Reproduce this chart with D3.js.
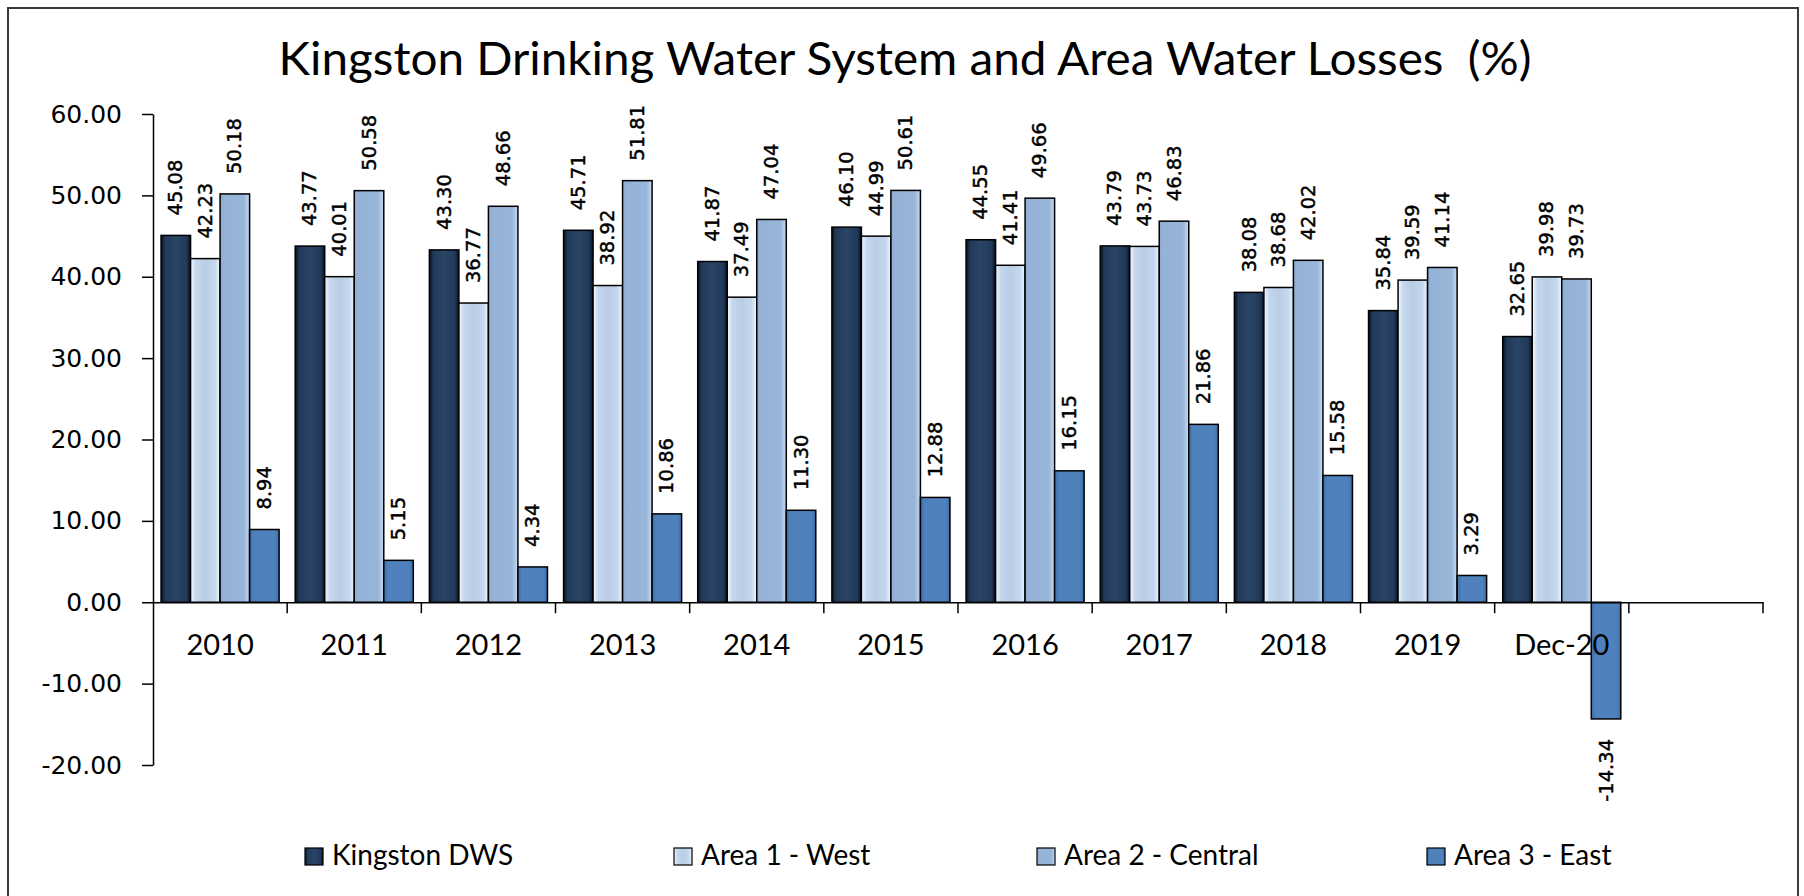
<!DOCTYPE html>
<html>
<head>
<meta charset="utf-8">
<script src="https://cdn.jsdelivr.net/npm/d3@7"></script>
<style>
  html, body { margin: 0; padding: 0; background: #fff; }
  svg { display: block; }
</style>
</head>
<body>
<svg id="chart" width="1804" height="896"></svg>
<script>
// Water loss percentages by year and service area
const categories = ["2010", "2011", "2012", "2013", "2014", "2015", "2016", "2017", "2018", "2019", "Dec-20"];
const kingstonDWS = [45.08, 43.77, 43.30, 45.71, 41.87, 46.10, 44.55, 43.79, 38.08, 35.84, 32.65];
const area1West = [42.23, 40.01, 36.77, 38.92, 37.49, 44.99, 41.41, 43.73, 38.68, 39.59, 39.98];
const area2Central = [50.18, 50.58, 48.66, 51.81, 47.04, 50.61, 49.66, 46.83, 42.02, 41.14, 39.73];
const area3East = [8.94, 5.15, 4.34, 10.86, 11.30, 12.88, 16.15, 21.86, 15.58, 3.29, -14.34];
const seriesNames = ["Kingston DWS", "Area 1 - West", "Area 2 - Central", "Area 3 - East"];
const yTickValues = [-20, -10, 0, 10, 20, 30, 40, 50, 60];
const titleText = "Kingston Drinking Water System and Area Water Losses  (%)";

const seriesValues = [kingstonDWS, area1West, area2Central, area3East];
// one empty slot after the last period keeps the category axis open on the right
const slots = categories.concat([" "]);

// number format with a plain hyphen for negatives
const fmt = d3.formatLocale({ decimal: ".", thousands: ",", grouping: [3], currency: ["", ""], minus: "-" }).format(".2f");

const svg = d3.select("#chart");
const plot = { left: 153, right: 1763, top: 114, bottom: 765 };

// shaded fills for each series (edge glow on the bars)
const shades = [
  [["0", "#07111f"], ["0.14", "#213a5a"], ["0.5", "#2a4466"], ["0.86", "#213a5a"], ["1", "#07111f"]],
  [["0", "#f3f9ff"], ["0.18", "#c4d7ee"], ["0.5", "#b9cde5"], ["0.82", "#c4d7ee"], ["1", "#eef6ff"]],
  [["0", "#8fadd2"], ["0.15", "#95b3d7"], ["0.8", "#97b5d9"], ["1", "#c6dbf2"]],
  [["0", "#3f6ea8"], ["0.15", "#4f81bd"], ["0.85", "#4f81bd"], ["1", "#3f6ea8"]]
];
const defs = svg.append("defs");
shades.forEach((stops, i) => {
  const g = defs.append("linearGradient").attr("id", "fill" + i)
    .attr("x1", "0").attr("x2", "1").attr("y1", "0").attr("y2", "0");
  stops.forEach(s => g.append("stop").attr("offset", s[0]).attr("stop-color", s[1]));
});

// chart frame
svg.append("rect").attr("x", 8).attr("y", 8).attr("width", 1790).attr("height", 900)
  .attr("fill", "#fff").attr("stroke", "#3a3a3a").attr("stroke-width", 2);

// title
svg.append("text").attr("x", 905).attr("y", 75)
  .attr("text-anchor", "middle")
  .attr("font-family", "Lato, 'Open Sans', sans-serif")
  .attr("font-size", 46)
  .attr("fill", "#000")
  .attr("textLength", 1253).attr("lengthAdjust", "spacingAndGlyphs")
  .style("white-space", "pre")
  .text(titleText);

// scales
const x0 = d3.scaleBand().domain(slots).range([plot.left, plot.right]).padding(0);
const x1 = d3.scaleBand().domain(seriesNames)
  .range([x0.bandwidth() * 0.06, x0.bandwidth() * 0.94]).padding(0);
const y = d3.scaleLinear().domain([-20, 60]).range([plot.bottom, plot.top]);

// y axis
const yAxis = d3.axisLeft(y).tickValues(yTickValues).tickFormat(fmt)
  .tickSizeOuter(0).tickSizeInner(11).tickPadding(20);
const gy = svg.append("g").attr("transform", `translate(${plot.left},0)`).call(yAxis);
gy.select(".domain").attr("stroke", "#000").attr("stroke-width", 1.5);
gy.selectAll(".tick line").attr("stroke", "#000").attr("stroke-width", 1.5);
gy.selectAll(".tick text")
  .attr("font-family", "'DejaVu Sans', Verdana, sans-serif")
  .attr("font-size", 25).attr("fill", "#000");

// bars
const groups = svg.append("g").selectAll("g")
  .data(categories)
  .join("g")
  .attr("transform", d => `translate(${x0(d)},0)`);

groups.each(function(cat, ci) {
  const g = d3.select(this);
  seriesNames.forEach((name, si) => {
    const v = seriesValues[si][ci];
    g.append("rect")
      .attr("x", x1(name))
      .attr("width", x1.bandwidth())
      .attr("y", y(Math.max(0, v)))
      .attr("height", Math.abs(y(v) - y(0)))
      .attr("fill", `url(#fill${si})`)
      .attr("stroke", "#000").attr("stroke-width", 1.5);
  });
});

// value labels, rotated to read upward
groups.each(function(cat, ci) {
  const g = d3.select(this);
  seriesNames.forEach((name, si) => {
    const v = seriesValues[si][ci];
    const cx = x1(name) + x1.bandwidth() / 2;
    const py = v >= 0 ? y(v) - 20 : y(v) + 20;
    g.append("text")
      .attr("transform", `translate(${cx},${py}) rotate(-90)`)
      .attr("text-anchor", v >= 0 ? "start" : "end")
      .attr("dominant-baseline", "central")
      .attr("font-family", "'DejaVu Sans', Verdana, sans-serif")
      .attr("font-size", 19.5)
      .attr("fill", "#000")
      .attr("stroke", "#000").attr("stroke-width", 0.45)
      .text(fmt(v));
  });
});

// category axis along zero
const xAxis = d3.axisBottom(x0).tickSize(0).tickPadding(0).tickFormat(d => d);
const gx = svg.append("g").attr("transform", `translate(0,${y(0)})`).call(xAxis);
gx.select(".domain").attr("stroke", "#000").attr("stroke-width", 1.5);
gx.selectAll(".tick text")
  .attr("y", 53)
  .attr("dy", 0)
  .attr("font-family", "Lato, 'Open Sans', sans-serif")
  .attr("font-size", 29).attr("fill", "#000");
// tick marks between categories
gx.append("g").selectAll("line")
  .data(slots)
  .join("line")
  .attr("x1", d => x0(d) + x0.bandwidth()).attr("x2", d => x0(d) + x0.bandwidth())
  .attr("y1", 0).attr("y2", 11)
  .attr("stroke", "#000").attr("stroke-width", 1.5);

// legend
const legendX = [305, 674, 1037, 1427];
const legend = svg.append("g").selectAll("g")
  .data(seriesNames)
  .join("g")
  .attr("transform", (d, i) => `translate(${legendX[i]},848)`);
legend.append("rect")
  .attr("width", 18).attr("height", 17)
  .attr("fill", (d, i) => `url(#fill${i})`)
  .attr("stroke", "#000").attr("stroke-width", 1.2);
legend.append("text")
  .attr("x", 27).attr("y", 17)
  .attr("font-family", "Lato, 'Open Sans', sans-serif")
  .attr("font-size", 28).attr("fill", "#000")
  .text(d => d);
</script>
</body>
</html>
